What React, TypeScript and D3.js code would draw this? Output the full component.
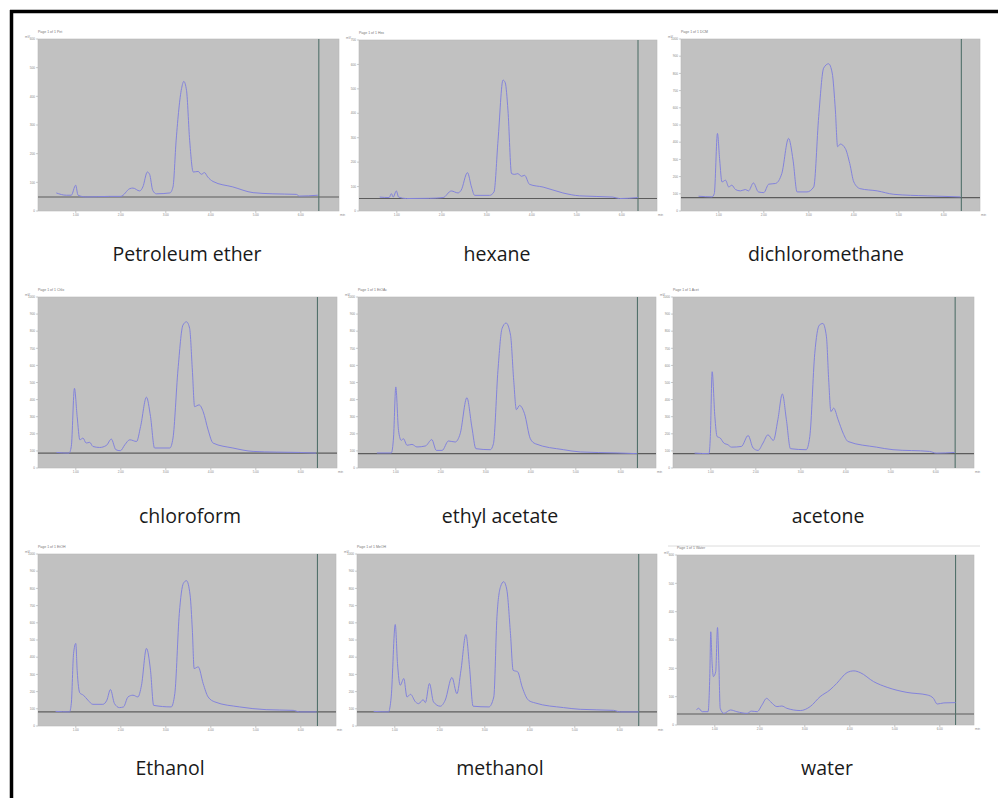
import React from "react";
import * as d3 from "d3";

const solvents = [
  "Petroleum ether", "hexane", "dichloromethane",
  "chloroform", "ethyl acetate", "acetone",
  "Ethanol", "methanol", "water",
];
const yMaxes = [600, 700, 1000, 1000, 1000, 1000, 1000, 1000, 600];
const baselines = [49, 51, 78, 87, 84, 84, 82, 82, 39];
const markers = [6.40, 6.36, 6.39, 6.37, 6.37, 6.43, 6.37, 6.42, 6.35];
const xTicks = [1, 2, 3, 4, 5, 6];
const headers = ["Page 1 of 1 Pet", "Page 1 of 1 Hex", "Page 1 of 1 DCM", "Page 1 of 1 Chlo", "Page 1 of 1 EtOAc", "Page 1 of 1 Acet", "Page 1 of 1 EtOH", "Page 1 of 1 MeOH", "Page 1 of 1 Water"];

const petroleumEther: [number, number][] = [
  [0.567, 63], [0.79, 55], [0.9, 55], [0.997, 90], [1.05, 55], [1.23, 49], [1.75, 51], [2.0, 51],
  [2.2, 78], [2.27, 80], [2.42, 70], [2.49, 84], [2.59, 136], [2.64, 128], [2.71, 72], [2.79, 60],
  [3.09, 63], [3.16, 84], [3.23, 247], [3.35, 427], [3.4, 452], [3.46, 421], [3.53, 247], [3.61, 136],
  [3.72, 138], [3.79, 128], [3.86, 134], [3.93, 119], [4.05, 103], [4.49, 84], [4.94, 64], [5.38, 60],
  [5.9, 58], [5.97, 52], [6.38, 55],
];
const hexane: [number, number][] = [
  [0.62, 57], [0.83, 55], [0.88, 71], [0.92, 57], [0.99, 82], [1.04, 57], [1.21, 51], [1.73, 52],
  [2.03, 55], [2.21, 82], [2.36, 74], [2.43, 85], [2.57, 157], [2.66, 98], [2.73, 64], [3.06, 64],
  [3.16, 78], [3.25, 290], [3.36, 536], [3.41, 525], [3.47, 413], [3.55, 153], [3.62, 150], [3.69, 153],
  [3.77, 142], [3.84, 146], [3.95, 109], [4.25, 98], [4.69, 74], [5.06, 62], [5.8, 57], [5.95, 51], [6.36, 55],
];
const dichloromethane: [number, number][] = [
  [0.55, 86], [0.85, 82], [0.9, 101], [0.97, 451], [1.02, 296], [1.07, 169], [1.15, 179], [1.22, 140],
  [1.29, 150], [1.37, 125], [1.48, 117], [1.59, 125], [1.66, 117], [1.77, 163], [1.88, 111], [2.0, 107],
  [2.11, 156], [2.26, 160], [2.4, 218], [2.55, 422], [2.65, 296], [2.74, 111], [2.96, 111], [3.11, 140],
  [3.22, 549], [3.33, 831], [3.44, 856], [3.52, 802], [3.59, 588], [3.64, 374], [3.7, 389], [3.81, 364],
  [3.91, 276], [4.0, 169], [4.14, 130], [4.52, 117], [4.89, 97], [5.63, 88], [6.37, 82],
];
const chloroform: [number, number][] = [
  [0.57, 91], [0.85, 87], [0.9, 126], [0.97, 466], [1.03, 301], [1.09, 165], [1.16, 175], [1.23, 146],
  [1.31, 150], [1.38, 126], [1.53, 120], [1.68, 132], [1.79, 169], [1.89, 107], [1.99, 101], [2.09, 136],
  [2.2, 165], [2.35, 155], [2.44, 243], [2.57, 414], [2.66, 301], [2.75, 117], [3.09, 117], [3.16, 175],
  [3.27, 573], [3.38, 835], [3.46, 855], [3.53, 816], [3.59, 573], [3.64, 359], [3.74, 369], [3.83, 330],
  [3.94, 223], [4.05, 146], [4.49, 117], [4.94, 97], [5.46, 93], [5.97, 91], [6.34, 87],
];
const ethylAcetate: [number, number][] = [
  [0.58, 88], [0.9, 88], [0.95, 181], [1.0, 474], [1.06, 220], [1.12, 162], [1.17, 171], [1.25, 133],
  [1.36, 138], [1.47, 123], [1.66, 129], [1.8, 166], [1.9, 103], [2.03, 103], [2.17, 158], [2.32, 152],
  [2.43, 200], [2.58, 411], [2.69, 240], [2.78, 113], [3.1, 107], [3.17, 142], [3.27, 571], [3.36, 815],
  [3.45, 848], [3.55, 776], [3.62, 513], [3.68, 341], [3.75, 366], [3.86, 318], [3.99, 171], [4.1, 142],
  [4.73, 107], [5.1, 94], [5.92, 88], [6.36, 84],
];
const acetone: [number, number][] = [
  [0.64, 87], [0.96, 84], [0.99, 184], [1.03, 563], [1.09, 301], [1.14, 184], [1.21, 175], [1.29, 146],
  [1.38, 136], [1.46, 122], [1.68, 126], [1.83, 190], [1.94, 117], [2.05, 103], [2.16, 146], [2.27, 194],
  [2.39, 161], [2.49, 282], [2.59, 433], [2.68, 282], [2.77, 113], [3.12, 107], [3.2, 184], [3.31, 670],
  [3.41, 835], [3.49, 845], [3.57, 767], [3.62, 515], [3.67, 330], [3.73, 350], [3.83, 282], [3.94, 204],
  [4.05, 155], [4.68, 122], [5.05, 107], [5.86, 97], [6.01, 87], [6.42, 91],
];
const ethanol: [number, number][] = [
  [0.55, 85], [0.86, 82], [0.9, 130], [0.95, 421], [1.0, 480], [1.03, 324], [1.09, 192], [1.17, 179],
  [1.27, 150], [1.38, 126], [1.6, 126], [1.69, 150], [1.77, 212], [1.86, 130], [1.97, 107], [2.06, 111],
  [2.16, 169], [2.27, 179], [2.38, 169], [2.46, 237], [2.57, 451], [2.66, 324], [2.73, 120], [3.12, 111],
  [3.2, 188], [3.3, 654], [3.39, 829], [3.46, 845], [3.54, 761], [3.59, 557], [3.63, 334], [3.72, 344],
  [3.83, 247], [3.94, 169], [4.09, 140], [4.64, 111], [5.23, 95], [5.83, 91], [5.97, 82], [6.35, 82],
];
const methanol: [number, number][] = [
  [0.53, 85], [0.86, 82], [0.92, 169], [1.01, 590], [1.06, 363], [1.12, 237], [1.2, 276], [1.27, 169],
  [1.35, 184], [1.46, 140], [1.53, 130], [1.63, 153], [1.68, 136], [1.77, 247], [1.86, 140], [2.01, 115],
  [2.12, 150], [2.27, 282], [2.38, 188], [2.47, 324], [2.58, 532], [2.66, 344], [2.74, 115], [3.09, 111],
  [3.2, 169], [3.27, 635], [3.35, 810], [3.42, 839], [3.49, 791], [3.57, 538], [3.63, 324], [3.73, 315],
  [3.83, 227], [3.97, 150], [4.12, 134], [4.75, 107], [5.12, 97], [5.86, 91], [6.01, 82], [6.42, 82],
];
const water: [number, number][] = [
  [0.59, 53], [0.64, 59], [0.72, 47], [0.85, 47], [0.89, 182], [0.91, 329], [0.94, 218], [0.97, 171],
  [1.02, 188], [1.06, 344], [1.09, 218], [1.12, 59], [1.2, 41], [1.35, 53], [1.49, 47], [1.72, 41],
  [1.81, 49], [1.94, 47], [2.05, 71], [2.15, 94], [2.24, 82], [2.38, 65], [2.49, 67], [2.6, 59],
  [2.9, 51], [3.12, 65], [3.34, 100], [3.56, 124], [3.71, 147], [3.94, 185], [4.09, 191], [4.23, 185],
  [4.53, 153], [4.83, 133], [5.27, 115], [5.72, 106], [5.86, 94], [5.94, 74], [6.09, 78], [6.35, 79],
];
const traces = [petroleumEther, hexane, dichloromethane, chloroform, ethylAcetate, acetone, ethanol, methanol, water];

// layout boxes [left, top, right, bottom]
const boxes = [
  [38, 39, 339, 211], [359, 40, 657, 211], [681, 39, 980, 211],
  [38, 297, 337, 468], [358, 297, 656, 468], [673, 297, 974, 468],
  [38, 554, 336, 726], [357, 554, 657, 726], [677, 555, 974, 725],
];
const labelPos = [
  [187, 261], [497, 261], [826, 261],
  [190, 523], [500, 523], [828, 523],
  [170, 775], [500, 775], [827, 775],
];

function Panel({ i }: { i: number }) {
  const [l, t, r, b] = boxes[i];
  const x = d3.scaleLinear().domain([0.16, 0.16 + (r - l) / 45]).range([l, r]);
  const y = d3.scaleLinear().domain([0, yMaxes[i]]).range([b, t]);
  const yT = d3.range(0, yMaxes[i] + 1, 100);
  const line = d3.line<[number, number]>().x((d) => x(d[0])).y((d) => y(d[1])).curve(d3.curveMonotoneX);
  const [lx, ly] = labelPos[i];
  return (
    <g>
      <rect x={l} y={t} width={r - l} height={b - t} fill="#c1c1c1" stroke="#b8b8b8" strokeWidth={0.6} />
      <text x={l} y={t - 6} fontSize={3.5} fill="#777" fontFamily="Liberation Sans">{headers[i]}</text>
      {yT.map((v) => (
        <g key={"y" + v}>
          <line x1={l - 2} x2={l} y1={y(v)} y2={y(v)} stroke="#999" strokeWidth={0.5} />
          <text x={l - 3} y={y(v) + 1.2} fontSize={3.2} fill="#888" textAnchor="end" fontFamily="Liberation Sans">{v}</text>
        </g>
      ))}
      <text x={l - 13} y={t - 1.5} fontSize={3.2} fill="#888" fontFamily="Liberation Sans">mV</text>
      {xTicks.map((v) => (
        <g key={"x" + v}>
          <line x1={x(v)} x2={x(v)} y1={b} y2={b + 2} stroke="#999" strokeWidth={0.5} />
          <text x={x(v)} y={b + 5} fontSize={3.2} fill="#888" textAnchor="middle" fontFamily="Liberation Sans">{v.toFixed(2)}</text>
        </g>
      ))}
      <text x={r + 1} y={b + 5} fontSize={3.2} fill="#888" fontFamily="Liberation Sans">min</text>
      <line x1={l} x2={r} y1={y(baselines[i])} y2={y(baselines[i])} stroke="#5c5c5c" strokeWidth={1.1} />
      <line x1={x(markers[i])} x2={x(markers[i])} y1={t} y2={b} stroke="#52716b" strokeWidth={1.1} />
      <path d={line(traces[i]) || ""} fill="none" stroke="#8383dc" strokeWidth={1} />
      <text x={lx} y={ly} fontSize={19.5} fill="#1a1a1a" textAnchor="middle" fontFamily="Open Sans">{solvents[i]}</text>
    </g>
  );
}

export default function App() {
  return (
    <svg width={998} height={798} style={{ position: "absolute", left: 0, top: 0, background: "#fff" }}>
      <rect x={0} y={0} width={998} height={798} fill="#fff" />
      <line x1={10} x2={998} y1={11.5} y2={11.5} stroke="#000" strokeWidth={3.5} />
      <line x1={11.5} x2={11.5} y1={10} y2={798} stroke="#000" strokeWidth={3.5} />
      <line x1={668} x2={980} y1={546} y2={546} stroke="#dcdcdc" strokeWidth={1} />
      {solvents.map((_, i) => <Panel key={i} i={i} />)}
    </svg>
  );
}
